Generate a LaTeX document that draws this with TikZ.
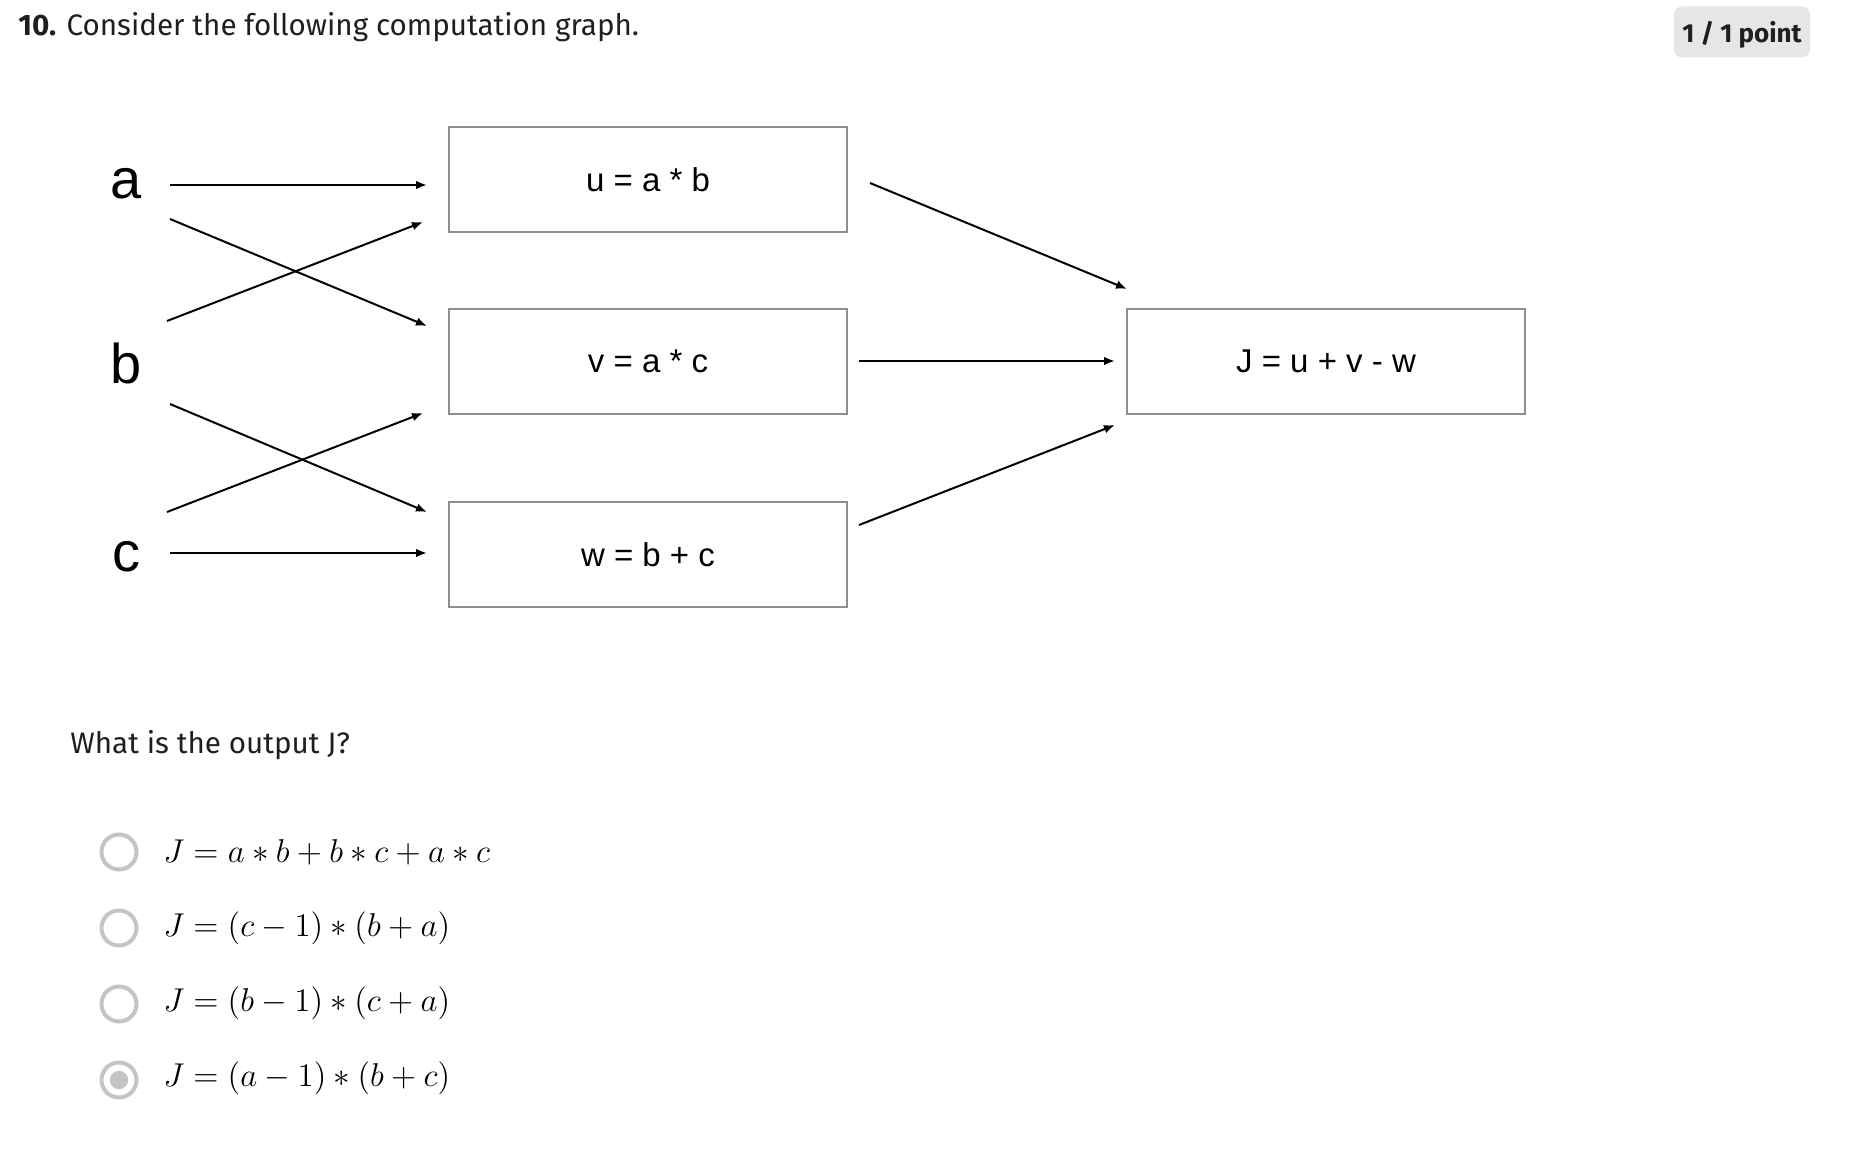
\RequirePackage{fix-cm}
\documentclass[tikz,border=0pt]{standalone}
\usepackage[no-math]{fontspec}
\setmainfont{Fira Sans}
\newfontfamily\helv{Liberation Sans}
\usetikzlibrary{arrows.meta}
\definecolor{boxgray}{HTML}{8E8E8E}
\definecolor{radiogray}{HTML}{C4C4C4}
\definecolor{badgegray}{HTML}{E5E6E8}
\definecolor{txt}{HTML}{1F1F1F}
\begin{document}
\begin{tikzpicture}[x=0.5pt,y=-0.5pt,
  opbox/.style={draw=boxgray,line width=1pt,minimum width=199pt,minimum height=52.5pt,inner sep=0pt,font=\helv\fontsize{16.5}{18}\selectfont},
  varlabel/.style={font=\helv\fontsize{28}{30}\selectfont,inner sep=0pt},
  conn/.style={line width=1pt,-{Latex[length=5.5pt,width=4.3pt]}},
  radio/.style={draw=radiogray,line width=2pt,circle,minimum size=17.5pt,inner sep=0pt},
  answer/.style={anchor=base west,inner sep=0pt,font=\fontsize{16.5}{19}\selectfont},
  plain/.style={anchor=base west,inner sep=0pt,text=txt,font=\fontsize{14.8}{18}\selectfont}]
\useasboundingbox[fill=white] (0,0) rectangle (1874,1172);

% header
\node[plain] (title) at (18,36) {\textbf{10.} Consider the following computation graph.};
\node[fill=badgegray,rounded corners=4pt,minimum width=68pt,minimum height=25.5pt,inner sep=0pt,text depth=0pt,text=txt,font=\bfseries\fontsize{13}{15}\selectfont] (badge) at (1742,32) {1 / 1 point};

% variables
\node[varlabel] (a) at (126,184) {a};
\node[varlabel] (b) at (126,363) {b};
\node[varlabel] (c) at (126,557) {c};

% operation boxes
\node[opbox] (u) at (648,179.5) {u = a * b};
\node[opbox] (v) at (648,361.5) {v = a * c};
\node[opbox] (w) at (648,554.5) {w = b + c};
\node[opbox] (J) at (1326,361.5) {J = u + v - w};

% connector end points
\coordinate (a1) at (170,185);  \coordinate (u1) at (427,185);
\coordinate (a2) at (170,219);  \coordinate (v1) at (427,326);
\coordinate (b1) at (167,321);  \coordinate (u2) at (423,222);
\coordinate (b2) at (170,404);  \coordinate (w1) at (427,512);
\coordinate (c1) at (167,512);  \coordinate (v2) at (423,413);
\coordinate (c2) at (170,553);  \coordinate (w2) at (427,553);
\coordinate (uo) at (870,183);  \coordinate (J1) at (1127,289);
\coordinate (vo) at (859,361);  \coordinate (J2) at (1115,361);
\coordinate (wo) at (859,525);  \coordinate (J3) at (1115,425);

\draw[conn] (a1) -- (u1);
\draw[conn] (a2) -- (v1);
\draw[conn] (b1) -- (u2);
\draw[conn] (b2) -- (w1);
\draw[conn] (c1) -- (v2);
\draw[conn] (c2) -- (w2);
\draw[conn] (uo) -- (J1);
\draw[conn] (vo) -- (J2);
\draw[conn] (wo) -- (J3);

% question
\node[plain] (q) at (70,753) {What is the output J?};

\node[radio] (r1) at (119,852) {};
\node[radio] (r2) at (119,928) {};
\node[radio] (r3) at (119,1004) {};
\node[radio] (r4) at (119,1080) {};
\fill[radiogray] (r4.center) circle (4.6pt);

\node[answer] (o1) at (163,862) {$J=a*b+b*c+a*c$};
\node[answer] (o2) at (163,936) {$J=(c-1)*(b+a)$};
\node[answer] (o3) at (163,1011) {$J=(b-1)*(c+a)$};
\node[answer] (o4) at (163,1086) {$J=(a-1)*(b+c)$};
\end{tikzpicture}
\end{document}
